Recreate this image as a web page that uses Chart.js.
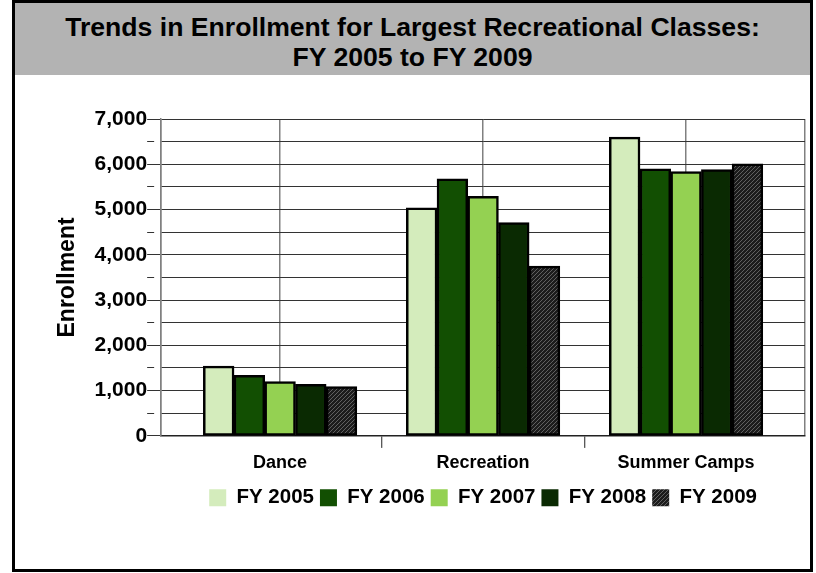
<!DOCTYPE html>
<html lang="en">
<head>
<meta charset="UTF-8">
<title>Trends in Enrollment for Largest Recreational Classes</title>
<script src="https://cdn.jsdelivr.net/npm/chart.js"></script>
<style>
    body {
        margin: 0;
        background: #ffffff;
        font-family: "Liberation Sans", Arial, sans-serif;
    }

    .frame {
        position: absolute;
        left: 12px;
        top: 0;
        width: 795px;
        height: 566px;
        border: 3px solid #000;
    }

    .header {
        height: 72px;
        box-sizing: border-box;
        padding-top: 9px;
        background: #b3b3b3;
        text-align: center;
        font-weight: bold;
        font-size: 26.6px;
        line-height: 30px;
        color: #000;
    }

    .chart-box {
        position: relative;
        width: 795px;
        height: 494px;
    }
</style>
</head>
<body>

<div class="frame">
    <div class="header">Trends in Enrollment for Largest Recreational Classes:<br>FY 2005 to FY 2009</div>
    <div class="chart-box">
        <canvas id="enrollChart"></canvas>
    </div>
</div>

<script>
    // class categories along the x axis
    const categories = ['Dance', 'Recreation', 'Summer Camps'];

    // enrollment per fiscal year
    const fy2005 = [1540, 5040, 6600];
    const fy2006 = [1340, 5680, 5900];
    const fy2007 = [1200, 5290, 5840];
    const fy2008 = [1140, 4710, 5880];
    const fy2009 = [1090, 3750, 6010];

    const yearLabels = ['FY 2005', 'FY 2006', 'FY 2007', 'FY 2008', 'FY 2009'];

    // diagonal hatch used for the last year
    function makeHatch() {
        const c = document.createElement('canvas');
        c.width = 4;
        c.height = 4;
        const g = c.getContext('2d');
        g.fillStyle = '#1c1c1c';
        g.fillRect(0, 0, 4, 4);
        g.strokeStyle = '#606060';
        g.lineWidth = 1;
        g.beginPath();
        g.moveTo(-1, 5); g.lineTo(5, -1);
        g.moveTo(-1, 1); g.lineTo(1, -1);
        g.moveTo(3, 5); g.lineTo(5, 3);
        g.stroke();
        return g.createPattern(c, 'repeat');
    }

    const fills = ['#d4ecbc', '#124f02', '#94d152', '#0a2a02', makeHatch()];
    const series = [fy2005, fy2006, fy2007, fy2008, fy2009];

    const datasets = series.map((values, i) => ({
        label: yearLabels[i],
        data: values.map((v, idx) => ({ x: idx, y: v })),
        backgroundColor: fills[i],
        borderColor: '#000',
        borderWidth: 2.5,
        borderSkipped: false,
        barThickness: 30.7
    }));

    const isHalf = v => Math.abs(Math.abs(v % 1) - 0.5) < 0.01;

    // keep the legend centred under the plot area rather than the whole canvas
    const legendUnderPlot = {
        id: 'legendUnderPlot',
        afterLayout(chart) {
            if (chart.legend) {
                chart.legend.left = chart.chartArea.left;
                chart.legend.right = chart.chartArea.right;
            }
        }
    };

    Chart.defaults.font.family = '"Liberation Sans", Arial, sans-serif';
    Chart.defaults.font.weight = 'bold';
    Chart.defaults.color = '#000';

    const sidePad = 0.586;

    new Chart(document.getElementById('enrollChart'), {
        type: 'bar',
        data: { datasets },
        plugins: [legendUnderPlot],
        options: {
            responsive: true,
            maintainAspectRatio: false,
            animation: false,
            layout: {
                padding: { left: 39, right: 5, top: 44, bottom: 51 }
            },
            plugins: {
                tooltip: { enabled: false },
                legend: {
                    position: 'bottom',
                    labels: {
                        boxWidth: 17,
                        boxHeight: 17,
                        padding: 6,
                        font: { size: 20.5, weight: 'bold' },
                        generateLabels(chart) {
                            return Chart.defaults.plugins.legend.labels.generateLabels(chart)
                                .map(item => ({ ...item, lineWidth: 0 }));
                        }
                    }
                }
            },
            scales: {
                x: {
                    type: 'linear',
                    offset: false,
                    min: -sidePad,
                    max: categories.length - 1 + sidePad,
                    afterBuildTicks(scale) {
                        const ticks = [{ value: scale.min }];
                        for (let i = 0; i < categories.length; i++) {
                            if (i > 0) ticks.push({ value: i - 0.5 });
                            ticks.push({ value: i });
                        }
                        ticks.push({ value: scale.max });
                        scale.ticks = ticks;
                    },
                    afterFit(scale) {
                        scale.height += 4;
                    },
                    grid: {
                        offset: false,
                        color: ctx => (ctx.tick && isHalf(ctx.tick.value)) ? 'rgba(0,0,0,0)' : '#808080',
                        lineWidth: 1.5,
                        tickColor: ctx => (ctx.tick && isHalf(ctx.tick.value)) ? '#222' : 'rgba(0,0,0,0)',
                        tickLength: 12,
                        tickWidth: 1
                    },
                    border: { color: '#222', width: 1.5 },
                    ticks: {
                        autoSkip: false,
                        maxRotation: 0,
                        padding: 4,
                        font: { size: 18, weight: 'bold' },
                        callback: v => Number.isInteger(v) ? categories[v] : ''
                    }
                },
                y: {
                    min: 0,
                    max: 7000,
                    title: {
                        display: true,
                        text: 'Enrollment',
                        font: { size: 23, weight: 'bold' },
                        padding: { top: 0, bottom: 13 }
                    },
                    grid: {
                        color: '#333',
                        lineWidth: 1,
                        tickLength: 14,
                        tickColor: '#333',
                        tickBorderDash: ctx => (ctx.tick && ctx.tick.value % 1000 !== 0) ? [7, 40] : []
                    },
                    border: { color: '#808080', width: 1.5 },
                    ticks: {
                        stepSize: 500,
                        autoSkip: false,
                        padding: 0,
                        font: { size: 21, weight: 'bold' },
                        callback: v => v % 1000 === 0 ? v.toLocaleString('en-US') : ''
                    }
                }
            }
        }
    });
</script>

</body>
</html>
